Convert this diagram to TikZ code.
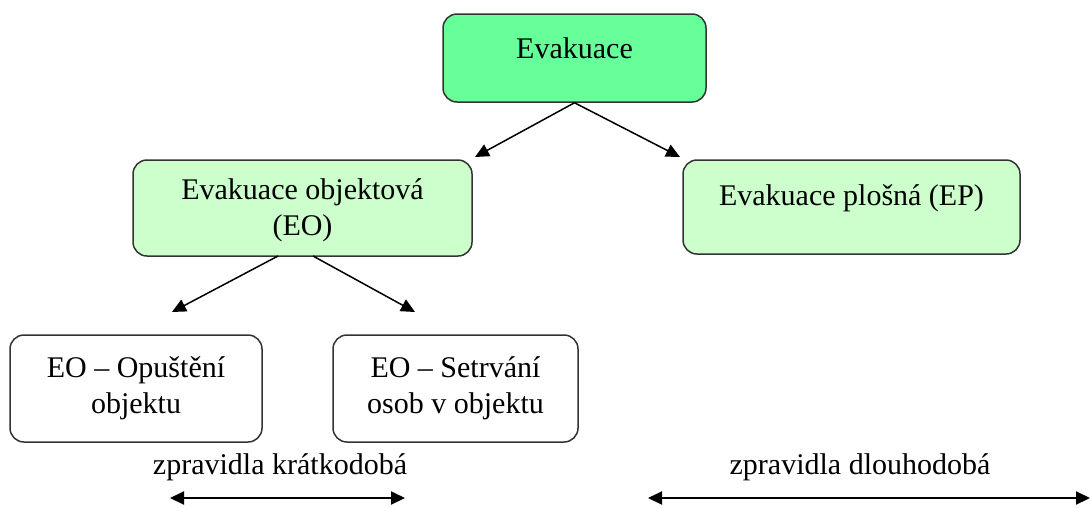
\documentclass[tikz,border=0pt]{standalone}
\usepackage{fontspec}
\setmainfont{Liberation Serif}
\usetikzlibrary{arrows.meta}
\definecolor{topgreen}{HTML}{66FF99}
\definecolor{lightgreen}{HTML}{CCFFCC}
\definecolor{edge}{HTML}{333333}
\begin{document}
\begin{tikzpicture}[x=1pt,y=-1pt,
  box/.style={draw=edge, line width=1.5pt, rounded corners=14pt, inner sep=0pt},
  txt/.style={font=\fontsize{30}{36}\selectfont, align=center, inner sep=0pt},
  arr/.style={line width=1.5pt, -{Triangle[length=14pt,width=13pt]}},
  dbl/.style={line width=2pt, {Triangle[length=14pt,width=13pt]}-{Triangle[length=14pt,width=13pt]}}]
\useasboundingbox (0,0) rectangle (1092,507);
% boxes
\node[box, fill=topgreen, minimum width=263pt, minimum height=88pt] (top) at (574.5,58) {};
\node[box, fill=lightgreen, minimum width=339pt, minimum height=96pt] (eo) at (302.5,208) {};
\node[box, fill=lightgreen, minimum width=337pt, minimum height=94pt] (ep) at (851.5,207) {};
\node[box, fill=white, minimum width=252pt, minimum height=107pt] (opu) at (136,388.5) {};
\node[box, fill=white, minimum width=245pt, minimum height=107pt] (set) at (455.5,388.5) {};
% texts
\node[txt] (toptxt) at (574.5,48) {Evakuace};
\node[txt] (eotxt) at (302.5,210) {Evakuace objektová\\(EO)};
\node[txt] (eptxt) at (851.5,198) {Evakuace plošná (EP)};
\node[txt] (oputxt) at (136,388) {EO – Opuštění\\objektu};
\node[txt] (settxt) at (455.5,388) {EO – Setrvání\\osob v objektu};
\node[txt] (kratko) at (280,467) {zpravidla krátkodobá};
\node[txt] (dlouho) at (860,467) {zpravidla dlouhodobá};
% coordinates
\coordinate (eoin) at (475,157);
\coordinate (epin) at (680,157);
\coordinate (eoL) at (278,256);
\coordinate (eoR) at (313,256);
\coordinate (opuin) at (172,312);
\coordinate (setin) at (415,312);
\coordinate (k1) at (170,498);
\coordinate (k2) at (405,498);
\coordinate (d1) at (648,498);
\coordinate (d2) at (1090,498);
% connectors
\draw[arr] (top.south) -- (eoin);
\draw[arr] (top.south) -- (epin);
\draw[arr] (eoL) -- (opuin);
\draw[arr] (eoR) -- (setin);
\draw[dbl] (k1) -- (k2);
\draw[dbl] (d1) -- (d2);
\end{tikzpicture}
\end{document}
